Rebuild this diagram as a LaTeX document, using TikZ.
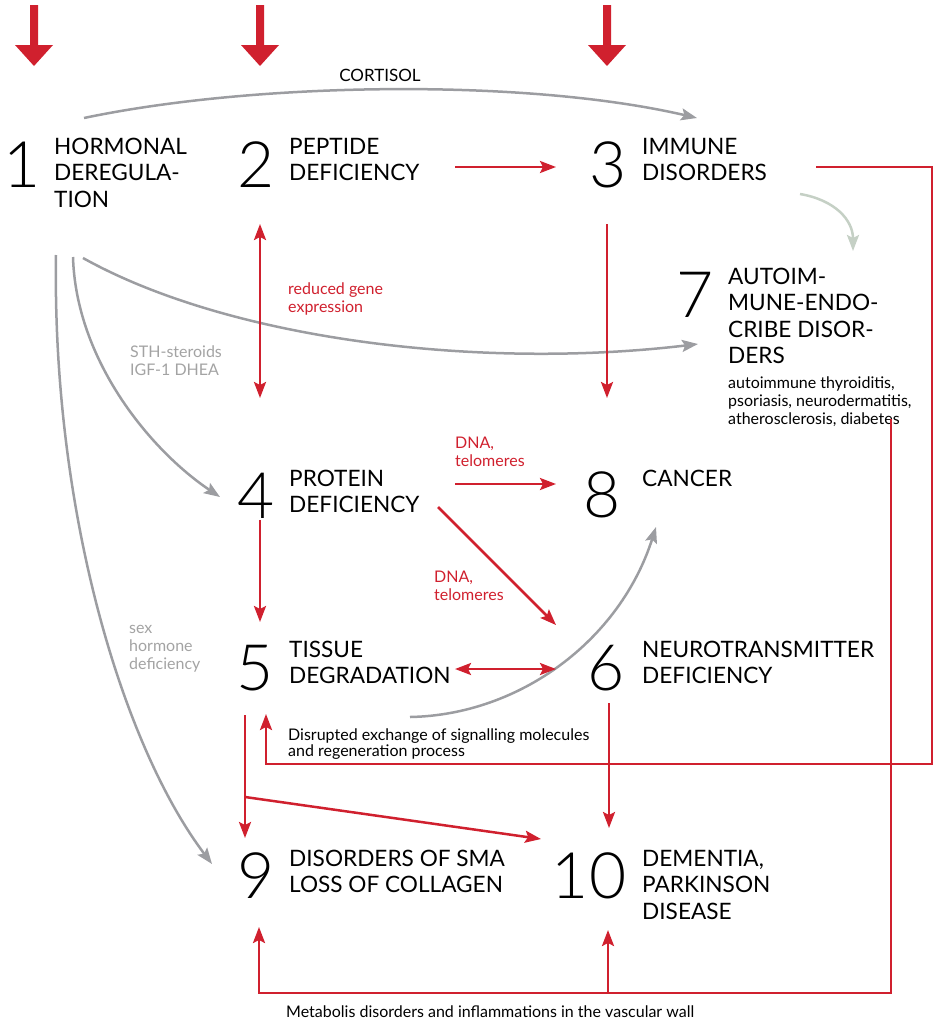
\documentclass[tikz,border=0pt]{standalone}
\usepackage{fontspec}
\setmainfont{Lato}
\IfFontExistsTF{Lato Light}{\newfontfamily\numfont{Lato Light}}{\newfontfamily\numfont{Lato Hairline}}
\usetikzlibrary{arrows.meta}
\definecolor{myred}{HTML}{D0202E}
\definecolor{lgray}{HTML}{9C9DA1}
\definecolor{tgray}{HTML}{A3A3A3}
\definecolor{lgreen}{HTML}{C5D0C5}
\newcommand\fls{\rule{0pt}{0.8em}}
\begin{document}
\begin{tikzpicture}[x=1pt,y=-1pt,
  num/.style={font=\numfont\fontsize{64}{64}\selectfont, inner sep=0pt, anchor=base},
  ttl/.style={font=\fontsize{22.6}{26.5}\selectfont, align=left, inner sep=0pt, anchor=north west},
  sml/.style={font=\fontsize{16}{18}\selectfont, align=left, inner sep=0pt, anchor=north west},
  redtxt/.style={sml, text=myred},
  graytxt/.style={sml, text=tgray},
  ra/.style={draw=myred, line width=2.5pt, -{Stealth[length=16pt,width=12pt,inset=3pt]}},
  rd/.style={draw=myred, line width=2.5pt, {Stealth[length=16pt,width=12pt,inset=3pt]}-{Stealth[length=16pt,width=12pt,inset=3pt]}},
  ga/.style={draw=lgray, line width=2.5pt, -{Stealth[length=16pt,width=12pt,inset=3pt]}},
  gg/.style={draw=lgreen, line width=2.5pt, -{Stealth[length=16pt,width=12pt,inset=3pt]}},
  bigarrow/.style={fill=myred},
]
\useasboundingbox (0,0) rectangle (939,1023);

% top arrows
\foreach \x in {34,260,607}{
  \fill[bigarrow] (\x-4,5) -- (\x+4,5) -- (\x+4,45) -- (\x+19,45) -- (\x,66) -- (\x-19,45) -- (\x-4,45) -- cycle;
}

% numbers
\node[num] (n1) at (22,187) {1};
\node[num] (n2) at (256,187) {2};
\node[num] (n3) at (608,187) {3};
\node[num] (n7) at (695,317) {7};
\node[num] (n4) at (256,518) {4};
\node[num] (n8) at (602,517) {8};
\node[num] (n5) at (255,690) {5};
\node[num] (n6) at (606,690) {6};
\node[num] (n9) at (256,898) {9};
\node[num] (n10) at (589,898) {10};

% titles
\node[ttl] (t1) at (54,136) {\fls HORMONAL\\DEREGULA-\\TION};
\node[ttl] (t2) at (289,136) {\fls PEPTIDE\\DEFICIENCY};
\node[ttl] (t3) at (642,136) {\fls IMMUNE\\DISORDERS};
\node[ttl] (t7) at (728,266) {\fls AUTOIM-\\MUNE-ENDO-\\CRIBE DISOR-\\DERS};
\node[ttl] (t4) at (289,468) {\fls PROTEIN\\DEFICIENCY};
\node[ttl] (t8) at (642,468) {\fls CANCER};
\node[ttl] (t5) at (289,639) {\fls TISSUE\\DEGRADATION};
\node[ttl] (t6) at (642,639) {\fls NEUROTRANSMITTER\\DEFICIENCY};
\node[ttl] (t9) at (289,848) {\fls DISORDERS OF SMA\\LOSS OF COLLAGEN};
\node[ttl] (t10) at (642,848) {\fls DEMENTIA,\\PARKINSON\\DISEASE};

% small texts
\node[sml] (s7) at (728,375) {\fls autoimmune thyroiditis,\\psoriasis, neurodermatitis,\\atherosclerosis, diabetes};
\node[redtxt] (lgene) at (288,281) {\fls reduced gene\\expression};
\node[graytxt] (lsth) at (130,344) {\fls STH-steroids\\IGF-1 DHEA};
\node[redtxt] (ldna1) at (455,435) {\fls DNA,\\telomeres};
\node[redtxt] (ldna2) at (434,569) {\fls DNA,\\telomeres};
\node[graytxt] (lsex) at (129,620) {\fls sex\\hormone\\deficiency};
\node[sml, font=\fontsize{16}{16}\selectfont] (ldis) at (288,727) {\fls Disrupted exchange of signalling molecules\\and regeneration process};
\node[sml] (lmet) at (286,1004) {\fls Metabolis disorders and inflammations in the vascular wall};
\node[anchor=base, inner sep=0pt, font=\fontsize{17}{17}\selectfont] (lcort) at (380,81) {CORTISOL};

% coordinates
\coordinate (cA) at (84,118);
\coordinate (cB) at (697,118);
\coordinate (g7a) at (83,258);
\coordinate (g7b) at (698,344);
\coordinate (g4a) at (73,257);
\coordinate (g4b) at (220,497);
\coordinate (g9a) at (56,255);
\coordinate (g9b) at (212,864);
\coordinate (g8a) at (410,717);
\coordinate (g8b) at (656,527);
\coordinate (e3a) at (800,194);
\coordinate (e3b) at (853,251);
\coordinate (r23a) at (455,167);
\coordinate (r23b) at (556,167);
\coordinate (r24a) at (260,224);
\coordinate (r24b) at (260,398);
\coordinate (r38a) at (607,224);
\coordinate (r38b) at (607,398);
\coordinate (r48a) at (455,484);
\coordinate (r48b) at (556,484);
\coordinate (r46a) at (438,507);
\coordinate (r46b) at (556,625);
\coordinate (r45a) at (260,520);
\coordinate (r45b) at (260,622);
\coordinate (r56a) at (455,669);
\coordinate (r56b) at (556,669);
\coordinate (r59a) at (245,715);
\coordinate (r59b) at (245,838);
\coordinate (r5br) at (245,797);
\coordinate (r510) at (541,839);
\coordinate (r610a) at (609,703);
\coordinate (r610b) at (609,828);
\coordinate (l3a) at (816,167);
\coordinate (l3b) at (932,167);
\coordinate (l3c) at (932,764);
\coordinate (l3d) at (266,764);
\coordinate (l3e) at (266,714);
\coordinate (l7a) at (891,419);
\coordinate (l7b) at (891,993);
\coordinate (l7c) at (259,993);
\coordinate (l7d) at (259,927);
\coordinate (l7m) at (608,993);
\coordinate (l7n) at (608,930);

% gray connectors
\draw[ga] (cA) .. controls (255,82) and (525,78) .. (cB);
\draw[ga] (g7a) .. controls (230,340) and (480,370) .. (g7b);
\draw[ga] (g4a) .. controls (76,360) and (150,450) .. (g4b);
\draw[ga] (g9a) .. controls (52,510) and (122,745) .. (g9b);
\draw[ga] (g8a) .. controls (520,715) and (620,640) .. (g8b);
\draw[gg] (e3a) .. controls (835,200) and (853,220) .. (e3b);

% red connectors
\draw[ra] (r23a) -- (r23b);
\draw[rd] (r24a) -- (r24b);
\draw[ra] (r38a) -- (r38b);
\draw[ra] (r48a) -- (r48b);
\draw[ra] (r46a) -- (r46b);
\draw[ra] (r45a) -- (r45b);
\draw[rd] (r56a) -- (r56b);
\draw[ra] (r59a) -- (r59b);
\draw[ra] (r5br) -- (r510);
\draw[ra] (r610a) -- (r610b);
\draw[ra] (l3a) -- (l3b) -- (l3c) -- (l3d) -- (l3e);
\draw[ra] (l7a) -- (l7b) -- (l7c) -- (l7d);
\draw[ra] (l7m) -- (l7n);
\end{tikzpicture}
\end{document}
